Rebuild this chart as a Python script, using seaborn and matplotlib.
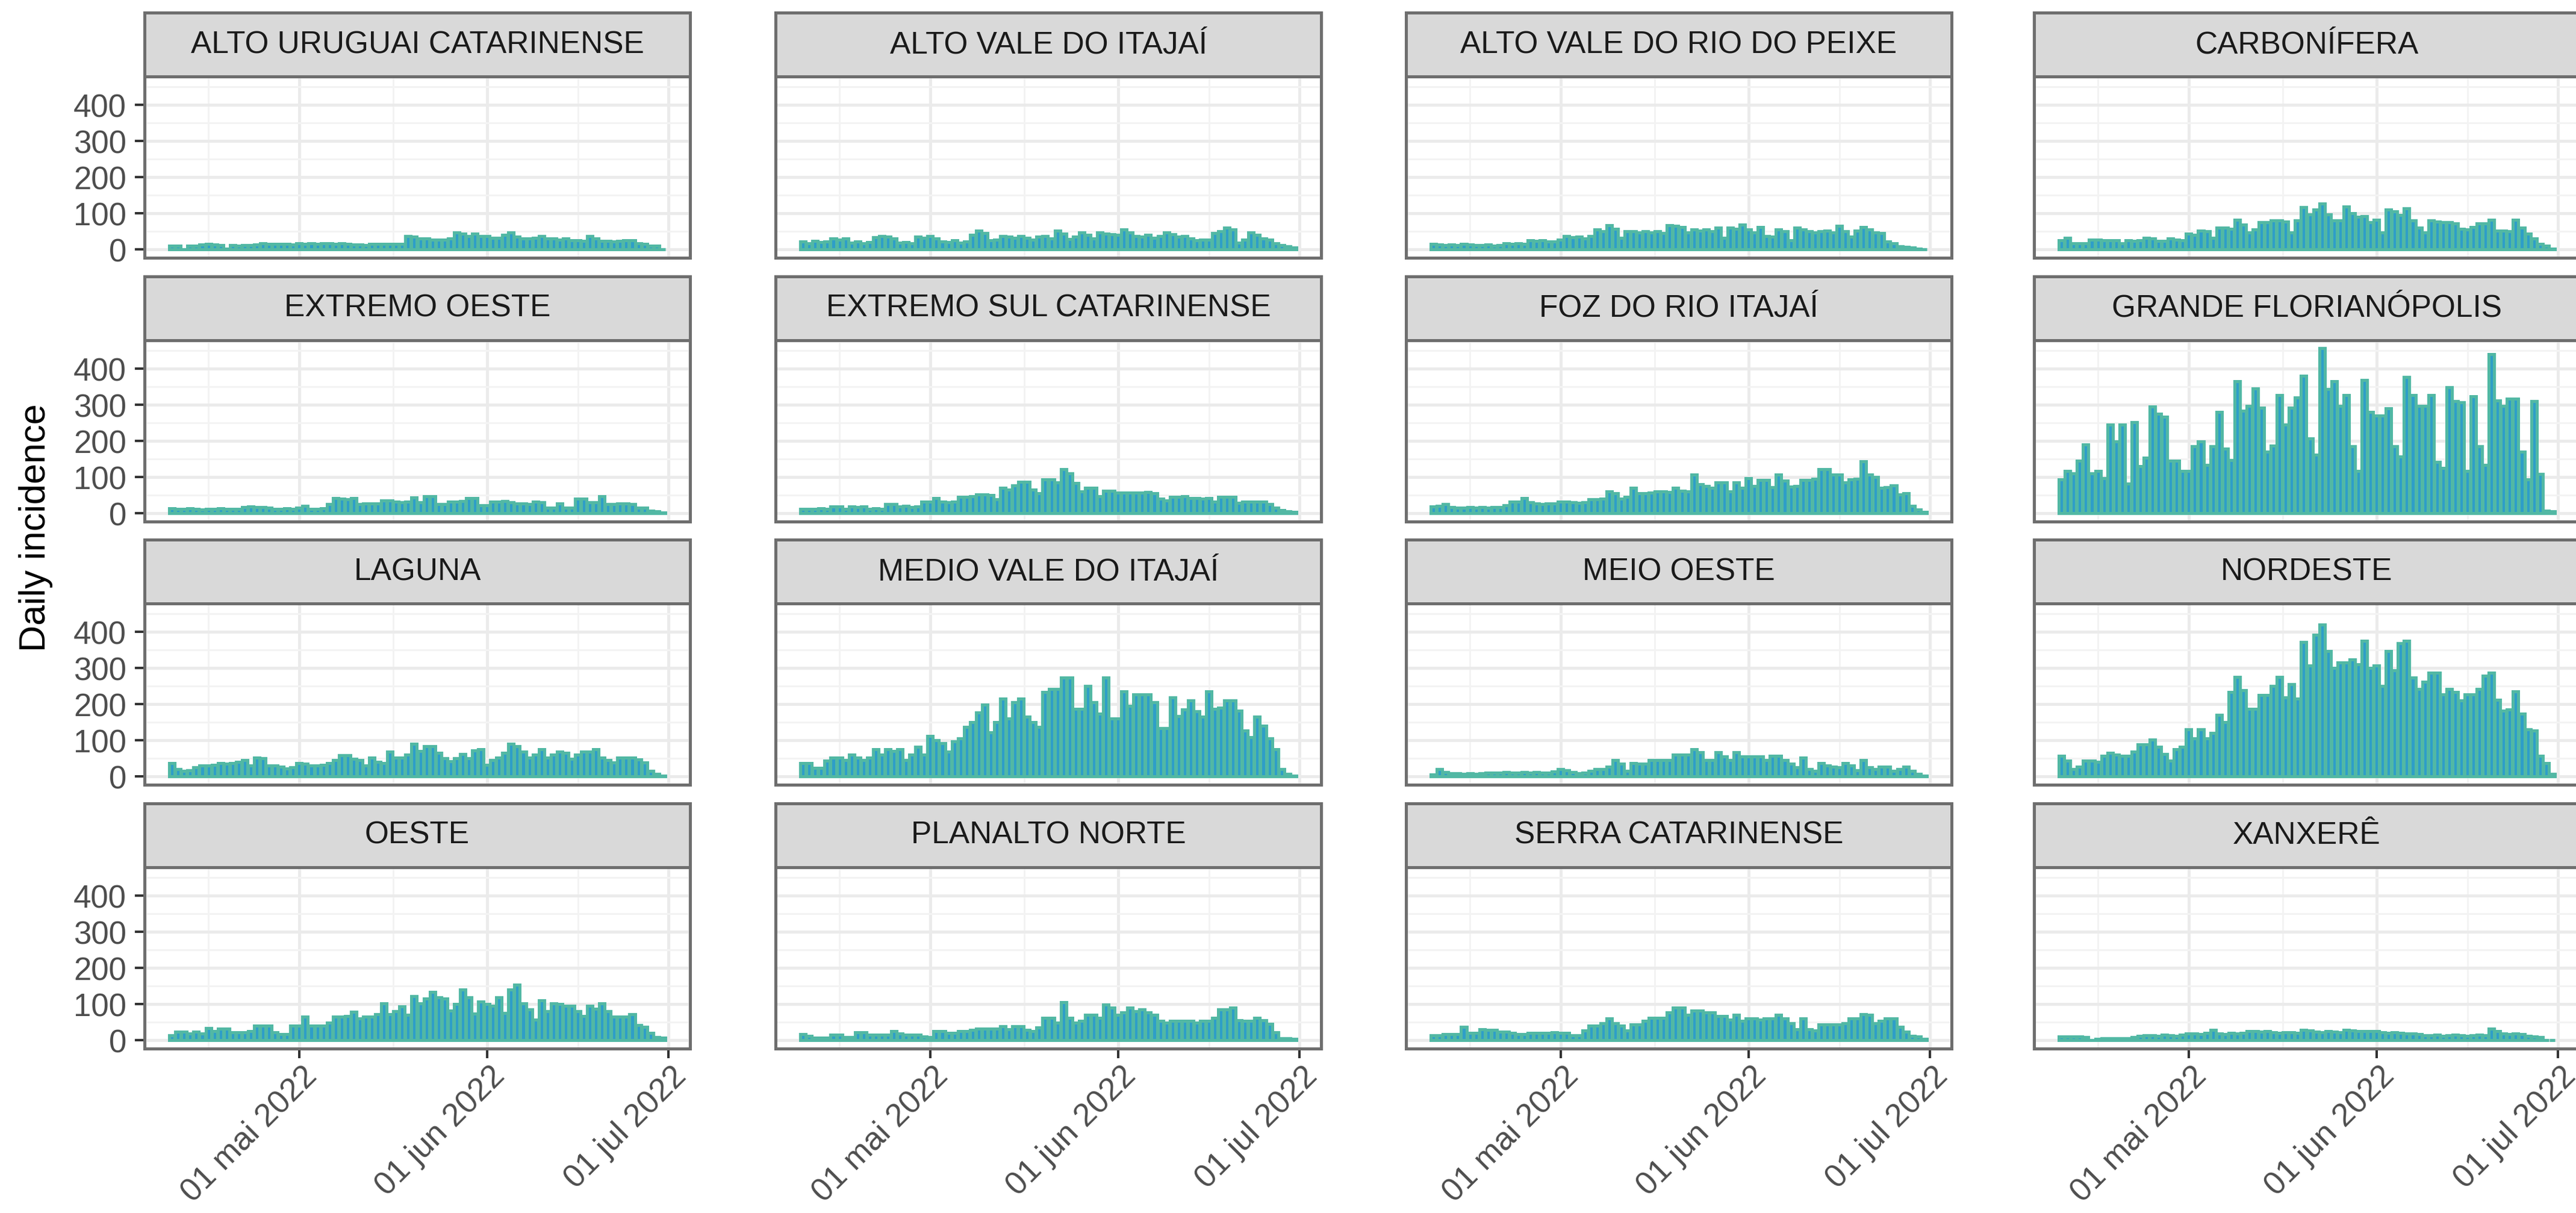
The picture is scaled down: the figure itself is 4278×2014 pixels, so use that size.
import numpy as np
import pandas as pd
import matplotlib
matplotlib.use("Agg")
import matplotlib.pyplot as plt
import matplotlib.dates as mdates
import matplotlib.transforms as mtransforms
from matplotlib.ticker import FixedLocator
import seaborn as sns

# ---------------- data ----------------
regions = [
    "ALTO URUGUAI CATARINENSE", "ALTO VALE DO ITAJAÍ", "ALTO VALE DO RIO DO PEIXE", "CARBONÍFERA",
    "EXTREMO OESTE", "EXTREMO SUL CATARINENSE", "FOZ DO RIO ITAJAÍ", "GRANDE FLORIANÓPOLIS",
    "LAGUNA", "MEDIO VALE DO ITAJAÍ", "MEIO OESTE", "NORDESTE",
    "OESTE", "PLANALTO NORTE", "SERRA CATARINENSE", "XANXERÊ",
]
dates = pd.date_range("2022-04-10", "2022-06-30", freq="D")

alto_uruguai = [10,10,0,10,10,14,15,14,12,2, 12,11,12,12,14,17,15,16,15,16, 14,17,16,17,16,17,17,16,17,15,
                14,14,13,16,16,15,16,15,16,38, 35,30,30,28,27,27,30,47,44,38, 44,38,38,33,33,40,47,35,31,31,
                33,38,30,30,28,30,25,25,24,38, 30,24,24,23,24,25,25,18,16,10, 10,0]
alto_vale_itajai = [22,18,24,20,23,30,28,31,19,22, 17,20,34,38,36,31,19,21,18,35, 33,37,30,22,20,25,19,23,40,53,
                    45,25,28,38,36,33,38,32,28,35, 38,31,53,44,29,36,48,40,30,47, 44,43,40,55,48,38,36,40,33,37,
                    47,42,35,37,30,25,28,27,45,50, 61,55,19,28,48,40,30,28,17,12, 9,6]
alto_vale_rio_peixe = [15,14,13,14,12,15,14,13,12,14, 11,13,17,16,18,15,25,24,26,22, 22,28,38,34,36,30,37,55,50,68,
                       58,32,51,50,47,51,48,50,45,68, 65,62,48,55,53,55,50,61,32,61, 58,69,55,48,62,38,36,55,50,25,
                       61,55,51,48,50,52,47,66,50,35, 52,62,55,47,45,22,18,9,8,6, 3,0]
carbonifera = [25,32,17,18,17,28,27,25,26,25, 18,25,24,26,32,30,24,24,30,28, 25,44,40,53,51,32,61,60,58,83,
               69,47,55,75,75,80,80,78,47,80, 117,97,110,128,97,80,80,119,100,90, 92,75,83,47,111,105,95,114,80,60,
               47,80,78,75,76,72,58,56,62,72, 72,83,53,53,50,83,60,44,30,15, 11,2]
extremo_oeste = [13,12,11,13,12,10,12,11,13,12, 11,12,17,18,16,17,15,12,11,13, 12,14,20,12,12,13,25,41,40,38,
                 41,25,26,26,27,34,34,31,30,32, 43,30,47,47,25,25,32,31,33,41, 41,21,22,32,31,33,30,26,26,25,
                 32,30,15,15,26,15,14,39,39,30, 30,47,25,24,26,27,25,15,14,6, 5,1]
extremo_sul = [12,12,11,13,12,18,18,12,18,17, 18,12,13,12,25,25,18,19,17,18, 31,31,41,31,30,31,44,44,46,51,
               51,50,38,70,65,77,86,86,64,54, 93,93,85,122,110,83,60,70,70,47, 62,62,56,56,57,57,56,58,55,40,
               34,45,45,47,41,41,40,42,32,45, 45,44,28,31,31,31,31,25,15,8, 5,3]
foz_rio_itajai = [18,20,25,16,15,15,16,15,16,15, 16,17,22,31,32,41,30,26,25,26, 27,31,31,30,28,30,38,38,40,60,
                  55,40,45,70,55,54,56,60,60,58, 70,62,60,106,80,75,70,84,84,60, 84,70,96,75,91,91,72,106,90,73,
                  75,91,91,95,122,122,106,106,85,93, 95,143,106,100,70,72,77,51,54,20, 10,3]
grande_florianopolis = [93,116,110,144,190,110,116,96,244,198, 244,82,252,130,153,295,275,266,144,144,
                        116,116,184,198,133,184,280,178,147,365, 283,297,345,292,170,187,326,244,292,320,
                        380,207,161,456,343,365,297,326,184,116, 368,280,269,269,289,184,156,377,326,297,
                        297,326,142,125,348,309,306,116,323,184, 133,439,312,297,317,317,170,93,309,108, 6,5]
laguna = [37,20,16,17,25,30,30,33,37,35, 37,40,46,30,53,50,30,30,28,23, 25,37,35,30,30,32,37,45,59,59,
          49,45,30,53,40,37,69,53,53,60, 90,70,84,84,65,50,43,50,62,50, 72,76,33,45,53,66,90,84,69,53,
          60,76,53,60,69,66,49,60,69,69, 76,53,45,39,53,53,53,48,39,16, 7,2]
medio_vale = [38,38,24,24,44,52,52,46,61,52, 46,52,75,61,75,70,75,46,61,83, 60,112,100,92,69,97,106,137,151,177,
              199,123,151,216,160,205,216,165,151,137, 233,242,242,273,273,188,188,250,205,174,
              273,160,160,236,196,228,228,228,205,134, 134,219,168,185,211,180,165,236,188,191,
              211,211,182,128,109,165,140,106,75,21, 7,2]
meio_oeste = [5,20,12,9,9,8,9,8,9,11, 11,10,12,11,11,13,11,12,11,11, 14,21,18,12,9,10,15,21,21,28,
              45,35,15,38,35,35,45,45,45,45, 61,61,61,76,68,45,45,68,55,45, 68,55,55,55,55,45,58,58,45,35,
              25,53,20,15,38,30,27,25,38,30, 18,45,25,20,28,28,15,20,28,15, 8,2]
nordeste = [58,44,21,27,44,44,40,58,66,60, 58,58,69,89,89,103,83,63,44,75, 83,131,106,131,106,120,171,151,233,276,
            239,188,188,225,225,250,276,219,256,216, 372,307,392,420,347,301,315,315,324,310,
            375,301,307,250,347,293,369,375,273,242, 262,287,287,228,242,233,211,228,228,242,
            279,287,213,182,185,236,174,131,128,58, 38,7]
oeste = [13,23,23,18,23,18,33,25,31,31, 21,22,21,25,40,40,40,22,17,17, 39,39,64,40,39,39,48,64,64,67,
         78,60,64,64,71,101,71,80,93,70, 122,102,115,133,118,115,81,100,140,118, 73,106,100,95,118,75,140,153,102,85,
         56,110,79,102,100,95,95,79,67,95, 87,102,79,65,65,65,71,42,36,19, 8,6]
planalto_norte = [17,12,7,7,7,15,15,8,8,22, 22,15,15,15,15,24,18,15,15,15, 9,8,24,24,20,20,24,24,28,32,
                  32,32,32,38,30,38,38,28,25,35, 62,62,48,104,62,48,53,69,69,62, 98,90,69,77,90,80,84,77,70,53,
                  48,53,53,53,53,48,53,53,62,84, 84,90,55,53,53,62,55,45,22,5, 4,3]
serra_catarinense = [13,13,16,16,16,36,20,20,30,28, 28,23,23,20,16,16,20,20,19,20, 21,20,19,13,13,26,39,39,46,59,
                     46,40,26,43,43,53,62,62,62,76, 89,89,69,82,82,76,76,66,66,56, 69,53,59,59,56,59,59,69,60,46,
                     30,59,30,26,43,43,43,43,46,59, 59,72,69,46,53,59,59,36,23,11, 10,3]
xanxere = [9,9,10,9,8,0,3,4,4,5, 4,5,8,12,13,13,12,14,13,12, 15,18,18,17,19,28,18,17,20,18,
           19,24,25,23,25,21,20,22,21,20, 28,27,23,22,24,23,22,28,27,25, 24,25,24,21,20,21,20,18,18,16,
           13,13,14,12,13,14,13,12,13,14, 13,32,25,18,17,18,16,12,9,8, 0,0]

series = [alto_uruguai, alto_vale_itajai, alto_vale_rio_peixe, carbonifera,
          extremo_oeste, extremo_sul, foz_rio_itajai, grande_florianopolis,
          laguna, medio_vale, meio_oeste, nordeste,
          oeste, planalto_norte, serra_catarinense, xanxere]

x_tick_dates = ["2022-05-01", "2022-06-01", "2022-07-01"]
x_tick_labels = ["01 mai 2022", "01 jun 2022", "01 jul 2022"]
x_minor_dates = ["2022-04-16T00:00", "2022-05-16T12:00", "2022-06-16T00:00"]
y_ticks = [0, 100, 200, 300, 400]
y_minor = [50, 150, 250, 350, 450]

# ---------------- style ----------------
sns.set_theme(style="white")
plt.rcParams["font.family"] = ["Liberation Sans", "DejaVu Sans"]

W, H, DPI = 4278, 2015, 100
PX = 72.0 / DPI  # points per pixel
fig = plt.figure(figsize=(W / DPI, H / DPI), dpi=DPI)
fig.patch.set_facecolor("white")

FILL = "#2E9EC8"
EDGE = "#52B8A4"
GRID = "#EBEBEB"
GRID_MINOR = "#F3F3F3"
BORDER = "#6E6E6E"
TICK = "#333333"

col_left = [240, 1288, 2335, 3378]
panel_w = 906
row_step = 437.5
strip_top0 = 22
strip_h = 106
panel_h = 301

xnum = mdates.date2num(dates.to_pydatetime())
span = (xnum[-1] + 0.45) - (xnum[0] - 0.45)
xlim = (xnum[0] - 0.45 - 0.05 * span, xnum[-1] + 0.45 + 0.05 * span)
ymax = max(max(s) for s in series)
ylim = (-0.05 * ymax, 1.05 * ymax)
xt = mdates.date2num(pd.to_datetime(x_tick_dates).to_pydatetime())
xm = mdates.date2num(pd.to_datetime(x_minor_dates, format="ISO8601").to_pydatetime())

label_shift = mtransforms.ScaledTranslation(4 / DPI, 0, fig.dpi_scale_trans)

for k, (name, vals) in enumerate(zip(regions, series)):
    r, c = divmod(k, 4)
    left = col_left[c]
    s_top = strip_top0 + r * row_step
    p_top = s_top + strip_h
    ax = fig.add_axes([left / W, 1 - (p_top + panel_h) / H, panel_w / W, panel_h / H])
    df = pd.DataFrame({"x": xnum, "y": vals})
    sns.barplot(data=df, x="x", y="y", native_scale=True, width=0.9, color=FILL,
                saturation=1, edgecolor=EDGE, linewidth=5 * PX, errorbar=None, ax=ax)
    ax.set_xlim(*xlim)
    ax.set_ylim(*ylim)
    ax.set_xlabel("")
    ax.set_ylabel("")
    ax.set_facecolor("white")
    ax.set_axisbelow(True)
    ax.set_xticks(xt)
    ax.set_yticks(y_ticks)
    ax.xaxis.set_minor_locator(FixedLocator(xm))
    ax.yaxis.set_minor_locator(FixedLocator(y_minor))
    ax.grid(True, which="major", color=GRID, linewidth=5 * PX)
    ax.grid(True, which="minor", color=GRID_MINOR, linewidth=3 * PX)
    ax.tick_params(which="minor", length=0)
    for sp in ax.spines.values():
        sp.set_color(BORDER)
        sp.set_linewidth(5 * PX)
    if c == 0:
        ax.set_yticklabels([str(v) for v in y_ticks])
        ax.tick_params(axis="y", which="major", left=True, length=16 * PX, width=4 * PX,
                       color=TICK, labelsize=38, labelcolor="#4D4D4D", pad=14 * PX)
    else:
        ax.tick_params(axis="y", which="major", left=False, labelleft=False)
    if r == 3:
        ax.set_xticklabels(x_tick_labels, rotation=45, ha="right", rotation_mode="anchor")
        ax.tick_params(axis="x", which="major", bottom=True, length=16 * PX, width=4 * PX,
                       color=TICK, labelsize=38.5, labelcolor="#4D4D4D", pad=4 * PX)
        for lab in ax.get_xticklabels():
            lab.set_transform(lab.get_transform() + label_shift)
    else:
        ax.tick_params(axis="x", which="major", bottom=False, labelbottom=False)

    # facet strip
    sax = fig.add_axes([left / W, 1 - (s_top + strip_h) / H, panel_w / W, strip_h / H])
    sax.set_facecolor("#D9D9D9")
    sax.set_xticks([])
    sax.set_yticks([])
    for sp in sax.spines.values():
        sp.set_color(BORDER)
        sp.set_linewidth(5 * PX)
    sax.text(0.5, 0.5, name, ha="center", va="center", fontsize=37, color="#1A1A1A",
             transform=sax.transAxes)

fig.text(60 / W, 1 - 876 / H, "Daily incidence", rotation=90, ha="center", va="center",
         fontsize=44, color="black")

fig.savefig("out.png", dpi=DPI, facecolor="white")
